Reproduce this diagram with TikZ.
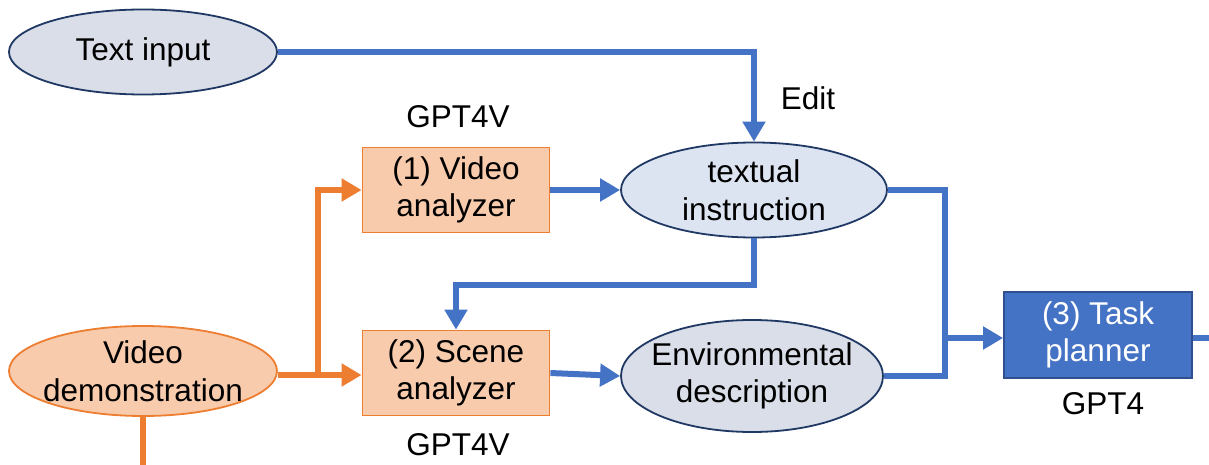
\documentclass[tikz,border=0pt]{standalone}
\usepackage{fontspec}
\setmainfont{Liberation Sans}
\usetikzlibrary{shapes.geometric,arrows.meta}
\definecolor{lblue}{HTML}{4472C4}
\definecolor{orng}{HTML}{ED7D31}
\definecolor{pfill}{HTML}{F8CBAD}
\definecolor{gfill}{HTML}{D9DEE8}
\definecolor{bfill}{HTML}{DCE4F2}
\definecolor{navy}{HTML}{203864}
\definecolor{tpborder}{HTML}{2F4F8F}
\tikzset{
  txt/.style={font=\fontsize{31.5}{37.5}\selectfont, align=center},
  ell/.style={txt, ellipse, draw=navy, line width=1.8pt, inner sep=-30pt},
  oell/.style={txt, ellipse, draw=orng, fill=pfill, line width=1.8pt, inner sep=-30pt},
  obox/.style={txt, rectangle, draw=orng, fill=pfill, line width=1.8pt, minimum width=187pt, minimum height=85pt, inner sep=0pt},
  tbox/.style={txt, rectangle, draw=tpborder, fill=lblue, text=white, line width=1.8pt, minimum width=188pt, minimum height=86pt, inner sep=0pt},
  bl/.style={draw=lblue, line width=6pt},
  bla/.style={bl, -{Triangle[length=20pt,width=22pt]}},
  ol/.style={draw=orng, line width=6pt},
  ola/.style={ol, -{Triangle[length=20pt,width=22pt]}},
}
\begin{document}
\begin{tikzpicture}[x=1pt,y=-1pt]
\useasboundingbox (0,0) rectangle (1209,465);
\node[ell, fill=gfill, minimum width=268pt, minimum height=85pt] (ti) at (143,52) {Text input};
\node[oell, minimum width=268pt, minimum height=90pt] (vd) at (143,371) {Video\\demonstration};
\node[obox] (va) at (456,190) {(1) Video\\analyzer};
\node[obox] (sa) at (456,373) {(2) Scene\\analyzer};
\node[ell, fill=bfill, minimum width=266pt, minimum height=95pt] (tx) at (754,190) {textual\\instruction};
\node[ell, fill=gfill, minimum width=262pt, minimum height=112pt] (ed) at (752,376) {Environmental\\description};
\node[tbox] (tp) at (1098,335) {(3) Task\\planner};
\node[txt] (edit) at (808,98) {Edit};
\node[txt] (g1) at (458,117) {GPT4V};
\node[txt] (g2) at (458,445) {GPT4V};
\node[txt] (g3) at (1103,404) {GPT4};
\coordinate (jn) at (945,338);
\coordinate (fb) at (754,285);
\coordinate (ob) at (318,375);
\coordinate (vdout) at (143,470);
\coordinate (tpout) at (1215,338);
% blue connectors
\draw[bla] (ti.east) -| (tx.north);
\draw[bla] (va.east) -- (tx.west);
\draw[bla] (sa.east) -- (ed.west);
\draw[bl] (tx.east) -| (jn);
\draw[bl] (ed.east) -| (jn);
\draw[bla] (jn) -- (tp.west |- jn);
\draw[bla] (tx.south) -- (fb) -| (sa.north);
\draw[bl] (tp.east |- tpout) -- (tpout);
% orange connectors
\draw[ola] (vd.east |- ob) -- (sa.west |- ob);
\draw[ola] (ob) |- (va.west);
\draw[ol] (vd.south) -- (vdout);
\end{tikzpicture}
\end{document}
